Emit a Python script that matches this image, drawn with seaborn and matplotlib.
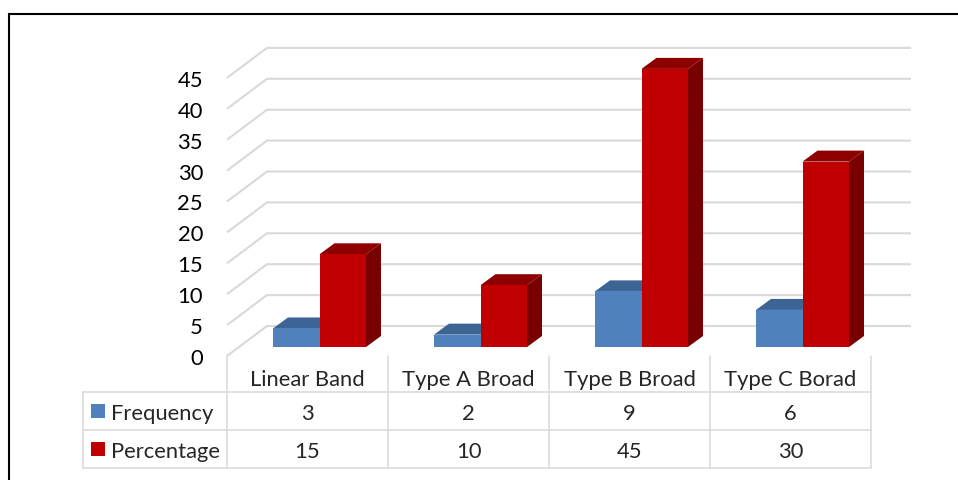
import matplotlib
matplotlib.use("Agg")
import matplotlib.pyplot as plt
import pandas as pd
import seaborn as sns
from matplotlib.patches import Polygon, Rectangle

# ---- data -------------------------------------------------------------
categories = ["Linear Band", "Type A Broad", "Type B Broad", "Type C Borad"]
series_names = ["Frequency", "Percentage"]
frequency = [3, 2, 9, 6]
percentage = [15, 10, 45, 30]
y_ticks = [0, 5, 10, 15, 20, 25, 30, 35, 40, 45]

# ---- styling ----------------------------------------------------------
BLUE = "#4F81BD"
BLUE_TOP = "#3C6595"
BLUE_SIDE = "#365A85"
RED = "#C00000"
RED_TOP = "#8E0000"
RED_SIDE = "#780000"
GRID = "#D9D9D9"
FONT_SIZE = 15.8

W, H, DPI = 958, 481, 100

sns.set_theme(style="white")
plt.rcParams["font.family"] = ["Lato", "DejaVu Sans"]

fig = plt.figure(figsize=(W / DPI, H / DPI), dpi=DPI)
fig.patch.set_facecolor("white")


def frac_box(left, top, right, bottom):
    """Pixel box (from the top-left corner) -> figure fraction rect."""
    return [left / W, 1 - bottom / H, (right - left) / W, (bottom - top) / H]


# pixel geometry of the plotting plane that holds the bar fronts
PX_CAT = 161.0      # width of one category
PX_UNIT = 6.18      # pixels per value unit
YMAX = 48
AX_LEFT = 239
AX_BASE = 348
n_cat = len(categories)

ax = fig.add_axes(frac_box(AX_LEFT, AX_BASE - YMAX * PX_UNIT,
                           AX_LEFT + PX_CAT * n_cat, AX_BASE))

df = pd.DataFrame({
    "category": categories * 2,
    "series": [series_names[0]] * n_cat + [series_names[1]] * n_cat,
    "value": frequency + percentage,
})

sns.barplot(data=df, x="category", y="value", hue="series",
            palette=[BLUE, RED], saturation=1, width=93 / PX_CAT,
            dodge=True, legend=False, errorbar=None, linewidth=0, ax=ax)

ax.set_xlim(-0.5, n_cat - 0.5)
ax.set_ylim(0, YMAX)
ax.axis("off")

# depth offsets (pixels converted to data units)
def dx(px):
    return px / PX_CAT


def dy(px):
    return px / PX_UNIT


# 3-D look: top and side faces for every bar
face_cols = {0: (BLUE_TOP, BLUE_SIDE), 1: (RED_TOP, RED_SIDE)}
bar_dx, bar_dy = dx(15), dy(11)
for k, p in enumerate(ax.patches):
    s = k // n_cat
    top_c, side_c = face_cols[s]
    x0, w, h = p.get_x(), p.get_width(), p.get_height()
    x1 = x0 + w
    z = 3 + 2 * s
    p.set_zorder(z + 0.5)
    ax.add_patch(Polygon([(x0, h), (x1, h), (x1 + bar_dx, h + bar_dy),
                          (x0 + bar_dx, h + bar_dy)],
                         closed=True, facecolor=top_c, edgecolor="none",
                         zorder=z, clip_on=False))
    ax.add_patch(Polygon([(x1, 0), (x1, h), (x1 + bar_dx, h + bar_dy),
                          (x1 + bar_dx, bar_dy)],
                         closed=True, facecolor=side_c, edgecolor="none",
                         zorder=z, clip_on=False))

# back wall gridlines with the slanted side-wall segment
f_dx, f_dy = dx(-12), dy(-9)
b_dx, b_dy = dx(28), dy(21)
for v in y_ticks:
    ax.plot([-0.5 + f_dx, -0.5 + b_dx, n_cat - 0.5 + b_dx],
            [v + f_dy, v + b_dy, v + b_dy],
            color=GRID, lw=1.5, zorder=1, clip_on=False,
            solid_capstyle="butt", solid_joinstyle="miter")
    ax.text(-0.5 + dx(203 - AX_LEFT), v + f_dy, str(v), ha="right",
            va="center_baseline", fontsize=FONT_SIZE, color="black")

# ---- data table + frame, drawn on a pixel canvas ----------------------
cv = fig.add_axes([0, 0, 1, 1])
cv.set_xlim(0, W)
cv.set_ylim(H, 0)
cv.axis("off")

TBL_LEFT = 83
COL0 = AX_LEFT - 12
ROW_TOP = 357
ROWS = [393, 431, 469]
tbl_lw = 1.1

col_edges = [COL0 + PX_CAT * i for i in range(n_cat + 1)]
for xe in col_edges:
    cv.plot([xe, xe], [ROW_TOP, ROWS[-1]], color=GRID, lw=tbl_lw)
cv.plot([TBL_LEFT, TBL_LEFT], [ROWS[0], ROWS[-1]], color=GRID, lw=tbl_lw)
for yr in ROWS:
    cv.plot([TBL_LEFT, col_edges[-1]], [yr, yr], color=GRID, lw=tbl_lw)

for i, cat in enumerate(categories):
    xc = COL0 + PX_CAT * (i + 0.5)
    cv.text(xc, (ROW_TOP + ROWS[0]) / 2 + 3, cat, ha="center",
            va="center_baseline", fontsize=FONT_SIZE)
    cv.text(xc, (ROWS[0] + ROWS[1]) / 2, str(frequency[i]), ha="center",
            va="center_baseline", fontsize=FONT_SIZE)
    cv.text(xc, (ROWS[1] + ROWS[2]) / 2, str(percentage[i]), ha="center",
            va="center_baseline", fontsize=FONT_SIZE)

for r, (name, col) in enumerate(zip(series_names, [BLUE, RED])):
    yc = (ROWS[r] + ROWS[r + 1]) / 2
    cv.add_patch(Rectangle((91, yc - 7), 14, 14, facecolor=col,
                           edgecolor="none"))
    cv.text(111, yc, name, ha="left", va="center_baseline",
            fontsize=FONT_SIZE)

# outer chart frame (top and left edges)
cv.plot([9, 9, W], [H, 15, 15], color="black", lw=1.5,
        solid_joinstyle="miter")

fig.savefig("out.png", dpi=DPI, facecolor="white")
